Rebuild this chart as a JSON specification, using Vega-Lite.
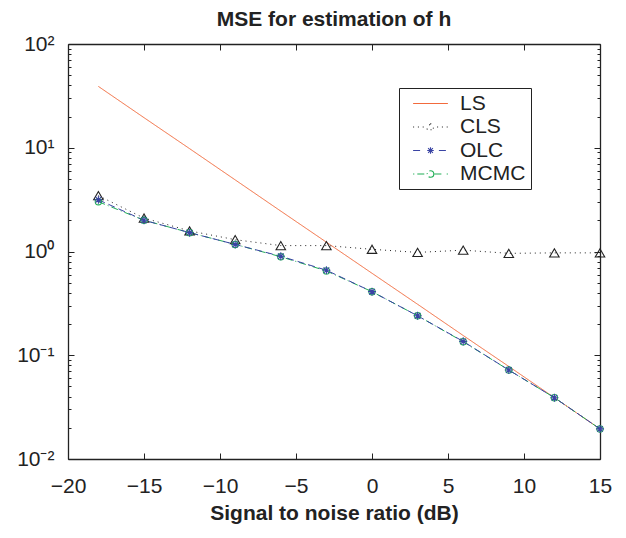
{
  "$schema": "https://vega.github.io/schema/vega-lite/v6.json",
  "width": 532,
  "height": 415,
  "autosize": "none",
  "padding": {"left": 68, "top": 44, "right": 26, "bottom": 79},
  "background": "white",
  "config": {
    "font": "Liberation Sans",
    "view": {"stroke": null},
    "axis": {
      "domainColor": "#222",
      "domainWidth": 1.3,
      "tickColor": "#222",
      "tickWidth": 1,
      "grid": false,
      "labelFont": "Liberation Sans",
      "labelFontSize": 21,
      "labelColor": "#222",
      "titleFont": "Liberation Sans",
      "titleFontSize": 21,
      "titleFontWeight": "bold",
      "titleColor": "#222"
    }
  },
  "title": {
    "text": "MSE for estimation of h",
    "font": "Liberation Sans",
    "fontSize": 21,
    "fontWeight": "bold",
    "color": "#222",
    "offset": 3
  },
  "data": {
    "values": [
      {"snr": -18, "series": "LS", "mse": 39},
      {"snr": -15, "series": "LS", "mse": 19.5},
      {"snr": -12, "series": "LS", "mse": 9.8},
      {"snr": -9, "series": "LS", "mse": 4.9},
      {"snr": -6, "series": "LS", "mse": 2.45},
      {"snr": -3, "series": "LS", "mse": 1.23},
      {"snr": 0, "series": "LS", "mse": 0.617},
      {"snr": 3, "series": "LS", "mse": 0.31},
      {"snr": 6, "series": "LS", "mse": 0.155},
      {"snr": 9, "series": "LS", "mse": 0.078},
      {"snr": 12, "series": "LS", "mse": 0.039},
      {"snr": 15, "series": "LS", "mse": 0.0195},
      {"snr": -18, "series": "CLS", "mse": 3.45},
      {"snr": -15, "series": "CLS", "mse": 2.1},
      {"snr": -12, "series": "CLS", "mse": 1.58},
      {"snr": -9, "series": "CLS", "mse": 1.3},
      {"snr": -6, "series": "CLS", "mse": 1.14},
      {"snr": -3, "series": "CLS", "mse": 1.14},
      {"snr": 0, "series": "CLS", "mse": 1.05},
      {"snr": 3, "series": "CLS", "mse": 0.98},
      {"snr": 6, "series": "CLS", "mse": 1.03},
      {"snr": 9, "series": "CLS", "mse": 0.96},
      {"snr": 12, "series": "CLS", "mse": 0.97},
      {"snr": 15, "series": "CLS", "mse": 0.97},
      {"snr": -18, "series": "MCMC", "mse": 3.02},
      {"snr": -15, "series": "MCMC", "mse": 2.0},
      {"snr": -12, "series": "MCMC", "mse": 1.52},
      {"snr": -9, "series": "MCMC", "mse": 1.17},
      {"snr": -6, "series": "MCMC", "mse": 0.89},
      {"snr": -3, "series": "MCMC", "mse": 0.65},
      {"snr": 0, "series": "MCMC", "mse": 0.41},
      {"snr": 3, "series": "MCMC", "mse": 0.24},
      {"snr": 6, "series": "MCMC", "mse": 0.135},
      {"snr": 9, "series": "MCMC", "mse": 0.072},
      {"snr": 12, "series": "MCMC", "mse": 0.039},
      {"snr": 15, "series": "MCMC", "mse": 0.0195},
      {"snr": -18, "series": "OLC", "mse": 3.15},
      {"snr": -15, "series": "OLC", "mse": 2.0},
      {"snr": -12, "series": "OLC", "mse": 1.52},
      {"snr": -9, "series": "OLC", "mse": 1.17},
      {"snr": -6, "series": "OLC", "mse": 0.9},
      {"snr": -3, "series": "OLC", "mse": 0.66},
      {"snr": 0, "series": "OLC", "mse": 0.41},
      {"snr": 3, "series": "OLC", "mse": 0.24},
      {"snr": 6, "series": "OLC", "mse": 0.136},
      {"snr": 9, "series": "OLC", "mse": 0.072},
      {"snr": 12, "series": "OLC", "mse": 0.039},
      {"snr": 15, "series": "OLC", "mse": 0.0195}
    ]
  },
  "layer": [
    {
      "mark": {"type": "line", "strokeWidth": 1, "clip": true},
      "encoding": {
        "x": {
          "field": "snr", "type": "quantitative",
          "scale": {"domain": [-20, 15], "nice": false, "zero": false},
          "axis": {
            "orient": "bottom",
            "values": [-20, -15, -10, -5, 0, 5, 10, 15],
            "tickSize": -6,
            "labelPadding": 22,
            "labelFlush": false,
            "labelOverlap": false,
            "title": "Signal to noise ratio (dB)",
            "titlePadding": 6
          }
        },
        "y": {
          "field": "mse", "type": "quantitative",
          "scale": {"type": "log", "domain": [0.01, 100], "nice": false},
          "axis": {
            "orient": "left",
            "values": [0.01, 0.02, 0.03, 0.04, 0.05, 0.06, 0.07, 0.08, 0.09, 0.1, 0.2, 0.3, 0.4, 0.5, 0.6, 0.7, 0.8, 0.9, 1, 2, 3, 4, 5, 6, 7, 8, 9, 10, 20, 30, 40, 50, 60, 70, 80, 90, 100],
            "tickSize": {"condition": {"test": "indexof([0.01, 0.1, 1, 10, 100], datum.value) >= 0", "value": -6}, "value": -3},
            "labelExpr": "datum.value == 100 ? '10²' : datum.value == 10 ? '10¹' : datum.value == 1 ? '10⁰' : datum.value == 0.1 ? '10⁻¹' : datum.value == 0.01 ? '10⁻²' : ''",
            "labelPadding": 20,
            "labelFlush": false,
            "labelOverlap": false,
            "labelBaseline": "middle",
            "title": null
          }
        },
        "color": {
          "field": "series", "type": "nominal",
          "scale": {"domain": ["LS", "CLS", "OLC", "MCMC"], "range": ["#f26a3c", "#222222", "#3a44a4", "#1fae55"]},
          "legend": {
            "orient": "none",
            "legendX": 331,
            "legendY": 44,
            "title": null,
            "fillColor": "white",
            "strokeColor": "#222",
            "padding": 5,
            "labelFont": "Liberation Sans",
            "labelFontSize": 21,
            "labelColor": "#222",
            "labelExpr": "datum.label + '  '",
            "symbolSize": 144,
            "symbolOffset": 16,
            "labelOffset": 19,
            "rowPadding": 1.5,
            "encode": {
              "symbols": {
                "update": {
                  "shape": {"signal": "datum.value == 'LS' ? 'M-2.9,0H2.9' : datum.value == 'CLS' ? 'M-2.9,0h0.2M-2.1,0h0.2M-1.3,0h0.2M1.1,0h0.2M1.9,0h0.2M2.7,0h0.2M0,-0.6L0.62,0.45L-0.62,0.45Z' : datum.value == 'OLC' ? 'M-2.9,0H-1.4M1.4,0H2.9M0,-0.55V0.55M-0.55,0H0.55M-0.4,-0.4L0.4,0.4M-0.4,0.4L0.4,-0.4' : 'M-2.9,0h0.2M-2.2,0H-0.65M0.55,0A0.55,0.55,0,1,1,-0.55,0A0.55,0.55,0,1,1,0.55,0M0.65,0H2.2M2.7,0h0.2'"},
                  "stroke": {"scale": "color", "field": "value"},
                  "strokeDash": {"value": []},
                  "fill": {"value": "transparent"},
                  "strokeWidth": {"value": 1.1},
                  "opacity": {"value": 1},
                  "strokeOpacity": {"value": 1}
                }
              }
            }
          }
        },
        "strokeDash": {
          "field": "series", "type": "nominal",
          "scale": {"domain": ["LS", "CLS", "OLC", "MCMC"], "range": [[1, 0], [1, 4], [7, 4], [7, 3, 1, 3]]},
          "legend": null
        }
      }
    },
    {
      "transform": [{"filter": "datum.series != 'LS'"}],
      "mark": {"type": "point", "filled": false, "strokeWidth": 1.1, "opacity": 1},
      "encoding": {
        "x": {
          "field": "snr", "type": "quantitative",
          "axis": {
            "orient": "top",
            "values": [-20, -15, -10, -5, 0, 5, 10, 15],
            "tickSize": -6,
            "labels": false,
            "title": null
          }
        },
        "y": {
          "field": "mse", "type": "quantitative",
          "axis": {
            "orient": "right",
            "values": [0.01, 0.02, 0.03, 0.04, 0.05, 0.06, 0.07, 0.08, 0.09, 0.1, 0.2, 0.3, 0.4, 0.5, 0.6, 0.7, 0.8, 0.9, 1, 2, 3, 4, 5, 6, 7, 8, 9, 10, 20, 30, 40, 50, 60, 70, 80, 90, 100],
            "tickSize": {"condition": {"test": "indexof([0.01, 0.1, 1, 10, 100], datum.value) >= 0", "value": -6}, "value": -3},
            "labels": false,
            "title": null
          }
        },
        "color": {"field": "series", "type": "nominal", "legend": null},
        "shape": {
          "field": "series", "type": "nominal",
          "scale": {"domain": ["CLS", "OLC", "MCMC"], "range": ["triangle-up", "M0,-1V1M-1,0H1M-0.7,-0.7L0.7,0.7M-0.7,0.7L0.7,-0.7", "circle"]},
          "legend": null
        },
        "size": {
          "field": "series", "type": "nominal",
          "scale": {"domain": ["CLS", "OLC", "MCMC"], "range": [90, 40, 66]},
          "legend": null
        }
      }
    }
  ],
  "resolve": {
    "axis": {"x": "independent", "y": "independent"}
  }
}
